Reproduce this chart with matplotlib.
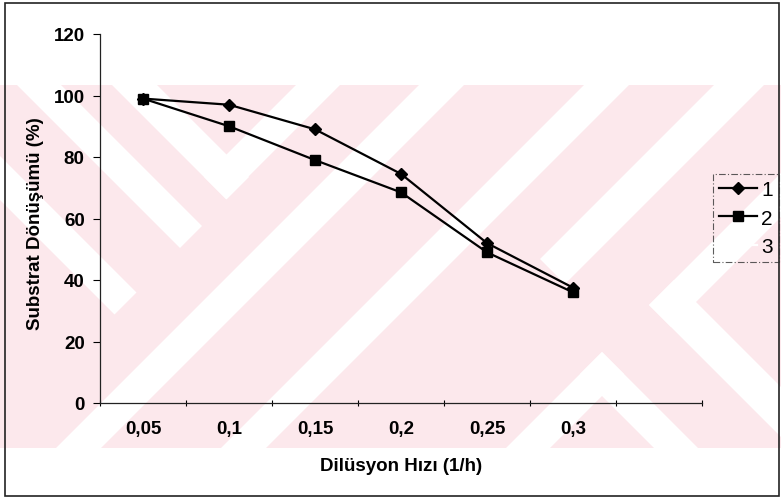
import matplotlib
matplotlib.use("Agg")
import matplotlib.pyplot as plt
from matplotlib.patches import Rectangle, Polygon

# data
categories = ["0,05", "0,1", "0,15", "0,2", "0,25", "0,3", ""]
seri_1 = [99, 97, 89, 74.5, 52, 37.5]
seri_2 = [99, 90, 79, 68.5, 49, 36]
seri_3 = []
legend_labels = ["1", "2", "3"]
yticks = [0, 20, 40, 60, 80, 100, 120]

plt.rcParams['font.family'] = ['Liberation Sans', 'DejaVu Sans']

W, H = 781, 502
fig = plt.figure(figsize=(W / 100, H / 100), dpi=100)

# background: the scanned page watermark (pink band, white 45deg stripes), pixel coords
bg = fig.add_axes([0, 0, 1, 1], zorder=-1)
bg.set_xlim(0, W)
bg.set_ylim(H, 0)
bg.axis("off")
band = Rectangle((0, 86), W, 363, facecolor="#fce8ec", edgecolor="none")
bg.add_patch(band)
# each stripe: (x-y range, x+y range)
BIG = 3000
stripes = [
    ((-201, -157), (-BIG, 430)),
    ((-69, -25), (-BIG, 429)),
    ((26, 71), (-BIG, 427)),
    ((26, BIG), (382, 426)),
    ((-BIG, BIG), (505, 550)),
    ((-BIG, BIG), (670, 715)),
    ((280, BIG), (800, 850)),
    ((-BIG, 249), (955, 999)),
    ((343, BIG), (955, 999)),
    ((205, 249), (955, BIG)),
    ((343, 393), (955, BIG)),
]
for (t0, t1), (s0, s1) in stripes:
    corners = [(t0, s0), (t1, s0), (t1, s1), (t0, s1)]
    pts = [((s + t) / 2, (s - t) / 2) for t, s in corners]
    p = Polygon(pts, closed=True, facecolor="white", edgecolor="none")
    bg.add_patch(p)
    p.set_clip_path(band)
# page frame
bg.add_patch(Rectangle((5, 4), 774, 493, fill=False, edgecolor="#222222", lw=1.2))

ax = fig.add_axes([100 / W, 1 - 404 / H, 602 / W, 369 / H])
ax.patch.set_alpha(0)
x = list(range(len(seri_1)))
ax.plot(x, seri_1, color="black", lw=1.6, marker="D", ms=6.5, label=legend_labels[0])
ax.plot(x, seri_2, color="black", lw=1.6, marker="s", ms=7, label=legend_labels[1])
ax.plot(seri_3, seri_3, color="white", lw=1.6, label=legend_labels[2])

ax.set_xlim(-0.5, len(categories) - 0.5)
ax.set_ylim(0, 120)
ax.set_yticks(yticks)
ax.set_yticklabels([str(v) for v in yticks], fontsize=13.5, fontweight="bold")
ax.set_xticks([i - 0.5 for i in range(len(categories) + 1)])
ax.set_xticklabels([])
ax.set_xticks(range(len(categories)), minor=True)
ax.set_xticklabels(categories, minor=True, fontsize=13.5, fontweight="bold")
ax.tick_params(axis="x", which="minor", length=0, pad=12)
ax.tick_params(axis="x", which="major", length=4, width=0.8, direction="inout")
ax.tick_params(axis="y", length=5, width=0.8, pad=6)
for side in ["top", "right"]:
    ax.spines[side].set_visible(False)
for side in ["left", "bottom"]:
    ax.spines[side].set_color("#222222")
    ax.spines[side].set_linewidth(0.9)

ax.set_ylabel("Substrat Dönüşümü (%)", fontsize=13.5, fontweight="bold")
ax.yaxis.set_label_coords(-0.093, 0.49)
ax.set_xlabel("Dilüsyon Hızı (1/h)", fontsize=13.5, fontweight="bold")
ax.xaxis.set_label_coords(0.5, -0.146)

leg = ax.legend(loc="upper left", bbox_to_anchor=(713 / W, 1 - 175 / H),
                bbox_transform=fig.transFigure, fontsize=15, frameon=True,
                fancybox=False, handlelength=1.8, handletextpad=0.2,
                borderpad=0.3, labelspacing=0.45, borderaxespad=0)
leg.get_frame().set_edgecolor("#333333")
leg.get_frame().set_linestyle((0, (6, 2, 1, 2)))
leg.get_frame().set_linewidth(0.8)
leg.get_frame().set_facecolor("none")

fig.savefig("out.png", dpi=100)
